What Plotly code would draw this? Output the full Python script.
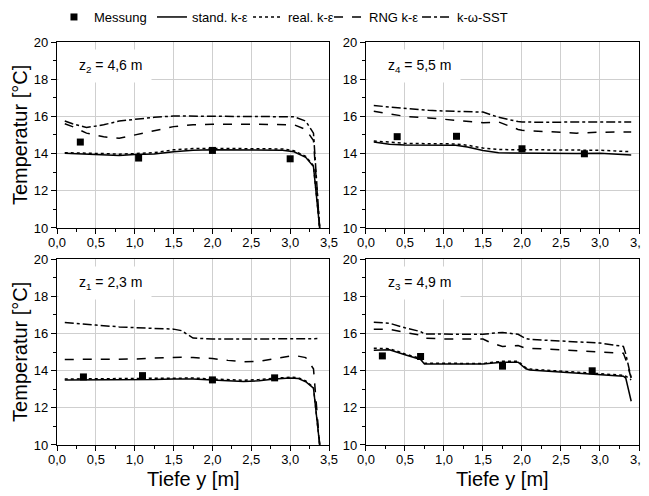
import plotly.graph_objects as go

# ---------------- data ----------------
# Top-left panel: z2 = 4,6 m
tl_x = [0.1, 0.2, 0.38, 0.6, 0.8, 1.0, 1.25, 1.5, 1.75, 2.0, 2.5, 2.9, 3.05, 3.2, 3.3, 3.38]
tl_std = [14.02, 14.0, 13.98, 13.95, 13.9, 13.95, 13.98, 14.1, 14.18, 14.2, 14.2, 14.18, 14.1, 13.8, 13.3, 10.0]
tl_real = [14.05, 14.03, 14.02, 14.0, 13.97, 14.0, 14.05, 14.2, 14.27, 14.28, 14.28, 14.25, 14.15, 13.85, 13.35, 10.0]
tl_rng = [15.6, 15.45, 15.1, 14.9, 14.82, 15.0, 15.25, 15.45, 15.55, 15.58, 15.58, 15.58, 15.55, 15.3, 14.7, 10.0]
tl_sst = [15.75, 15.6, 15.4, 15.55, 15.75, 15.85, 15.95, 16.02, 16.02, 16.0, 16.0, 16.0, 15.98, 15.75, 15.1, 10.0]
tl_mess_x = [0.3, 1.05, 2.0, 3.0]
tl_mess_y = [14.62, 13.76, 14.17, 13.72]

# Top-right panel: z4 = 5,5 m
tr_x = [0.1, 0.3, 0.5, 0.8, 1.0, 1.15, 1.3, 1.5, 1.7, 1.85, 1.95, 2.0, 2.3, 2.7, 3.0, 3.4]
tr_std = [14.62, 14.5, 14.46, 14.46, 14.46, 14.45, 14.35, 14.17, 14.04, 14.03, 14.03, 14.03, 14.02, 14.0, 14.02, 13.93]
tr_real = [14.68, 14.6, 14.55, 14.53, 14.53, 14.52, 14.45, 14.3, 14.22, 14.2, 14.2, 14.2, 14.2, 14.18, 14.18, 14.1]
tr_rng = [16.28, 16.15, 16.0, 15.92, 15.85, 15.8, 15.75, 15.66, 15.7, 15.45, 15.3, 15.25, 15.18, 15.1, 15.15, 15.16]
tr_sst = [16.58, 16.5, 16.44, 16.33, 16.29, 16.26, 16.25, 16.23, 15.95, 15.8, 15.72, 15.7, 15.68, 15.7, 15.7, 15.7]
tr_mess_x = [0.4, 1.16, 2.0, 2.8]
tr_mess_y = [14.91, 14.93, 14.26, 13.99]

# Bottom-left panel: z1 = 2,3 m
bl_x = [0.1, 0.3, 0.5, 0.8, 1.0, 1.25, 1.5, 1.6, 1.75, 2.0, 2.2, 2.4, 2.6, 2.8, 3.0, 3.1, 3.2, 3.3, 3.38]
bl_std = [13.5, 13.5, 13.5, 13.48, 13.5, 13.52, 13.55, 13.55, 13.55, 13.5, 13.45, 13.42, 13.45, 13.55, 13.6, 13.58, 13.4, 13.06, 10.0]
bl_real = [13.55, 13.56, 13.56, 13.55, 13.56, 13.58, 13.6, 13.6, 13.6, 13.55, 13.5, 13.48, 13.52, 13.6, 13.65, 13.62, 13.45, 13.1, 10.0]
bl_rng = [14.6, 14.6, 14.6, 14.6, 14.62, 14.68, 14.72, 14.72, 14.7, 14.65, 14.55, 14.48, 14.5, 14.62, 14.78, 14.78, 14.7, 14.1, 10.0]
bl_sst_x = [0.1, 0.3, 0.5, 0.8, 1.0, 1.25, 1.5, 1.6, 1.75, 2.0, 2.5, 3.0, 3.35]
bl_sst = [16.59, 16.5, 16.45, 16.35, 16.3, 16.27, 16.23, 16.15, 15.75, 15.7, 15.7, 15.72, 15.72]
bl_mess_x = [0.34, 1.1, 2.0, 2.8]
bl_mess_y = [13.66, 13.73, 13.5, 13.61]

# Bottom-right panel: z3 = 4,9 m
br_x = [0.1, 0.3, 0.5, 0.7, 0.75, 1.0, 1.5, 1.6, 1.75, 1.95, 2.05, 2.1, 2.5, 3.0, 3.3, 3.33, 3.4]
br_std = [15.1, 15.12, 14.85, 14.6, 14.36, 14.35, 14.35, 14.4, 14.45, 14.45, 14.1, 14.03, 13.93, 13.8, 13.7, 13.6, 12.35]
br_real = [15.2, 15.18, 14.9, 14.65, 14.4, 14.38, 14.38, 14.43, 14.5, 14.5, 14.15, 14.08, 13.98, 13.85, 13.75, 13.7, 13.5]
br_rng = [16.22, 16.22, 16.05, 15.9, 15.75, 15.7, 15.7, 15.5, 15.3, 15.35, 15.2, 15.2, 15.12, 15.0, 14.93, 14.6, 13.6]
br_sst = [16.6, 16.55, 16.3, 16.1, 15.97, 15.95, 15.95, 16.0, 16.05, 15.95, 15.72, 15.68, 15.6, 15.48, 15.3, 14.9, 13.6]
br_mess_x = [0.21, 0.7, 1.75, 2.9]
br_mess_y = [14.79, 14.76, 14.24, 13.99]

series_names = ["Messung", "stand. k-ε", "real. k-ε", "RNG k-ε", "k-ω-SST"]
panel_labels = ["z<sub>2</sub> = 4,6 m", "z<sub>4</sub> = 5,5 m", "z<sub>1</sub> = 2,3 m", "z<sub>3</sub> = 4,9 m"]
x_ticks = [0.0, 0.5, 1.0, 1.5, 2.0, 2.5, 3.0, 3.5]
y_ticks = [10, 12, 14, 16, 18, 20]
x_title = "Tiefe y [m]"
y_title = "Temperatur [°C]"

# ---------------- figure ----------------
FONT = "Arial, Liberation Sans, sans-serif"
fig = go.Figure()

panels = [
    dict(xa="x", ya="y", mx=tl_mess_x, my=tl_mess_y,
         lines=[(tl_x, tl_std), (tl_x, tl_real), (tl_x, tl_rng), (tl_x, tl_sst)]),
    dict(xa="x2", ya="y2", mx=tr_mess_x, my=tr_mess_y,
         lines=[(tr_x, tr_std), (tr_x, tr_real), (tr_x, tr_rng), (tr_x, tr_sst)]),
    dict(xa="x3", ya="y3", mx=bl_mess_x, my=bl_mess_y,
         lines=[(bl_x, bl_std), (bl_x, bl_real), (bl_x, bl_rng), (bl_sst_x, bl_sst)]),
    dict(xa="x4", ya="y4", mx=br_mess_x, my=br_mess_y,
         lines=[(br_x, br_std), (br_x, br_real), (br_x, br_rng), (br_x, br_sst)]),
]
dashes = ["solid", "dot", "dash", "dashdot"]
legend_ids = ["legend", "legend2", "legend3", "legend4", "legend5"]

for i, p in enumerate(panels):
    for j, (lx, ly) in enumerate(p["lines"]):
        fig.add_trace(go.Scatter(
            x=lx, y=ly, mode="lines", xaxis=p["xa"], yaxis=p["ya"],
            name=series_names[j + 1], showlegend=(i == 0), legend=legend_ids[j + 1],
            line=dict(color="black", width=1.5, dash=dashes[j])))
    fig.add_trace(go.Scatter(
        x=p["mx"], y=p["my"], mode="markers", xaxis=p["xa"], yaxis=p["ya"],
        name=series_names[0], showlegend=(i == 0), legend=legend_ids[0],
        marker=dict(symbol="square", size=7, color="black")))

col_dom = [[0.0, 0.4674], [0.5309, 1.0]]
row_dom = [[0.5385, 1.0], [0.0, 0.4615]]
axis_common = dict(
    showline=True, mirror=True, linecolor="black", linewidth=1.3,
    ticks="outside", ticklen=5, tickwidth=1, tickcolor="black",
    showgrid=True, gridcolor="#cfcfcf", gridwidth=1, zeroline=False,
    automargin=False,
    tickfont=dict(family=FONT, size=13, color="black"),
)
layout_axes = {}
for k in range(4):
    r, c = divmod(k, 2)
    xs = "xaxis" if k == 0 else f"xaxis{k+1}"
    ys = "yaxis" if k == 0 else f"yaxis{k+1}"
    yref = "y" if k == 0 else f"y{k+1}"
    xref = "x" if k == 0 else f"x{k+1}"
    xa = dict(axis_common, domain=col_dom[c], anchor=yref, range=[0, 3.5],
              tickvals=x_ticks, tickformat=".1f", ticklabelstandoff=-3,
              minor=dict(tickvals=[0.25, 0.75, 1.25, 1.75, 2.25, 2.75, 3.25],
                         ticks="outside", ticklen=3, tickcolor="black", showgrid=False))
    ya = dict(axis_common, domain=row_dom[r], anchor=xref, range=[10, 20],
              tickvals=y_ticks,
              minor=dict(tickvals=[11, 13, 15, 17, 19],
                         ticks="outside", ticklen=3, tickcolor="black", showgrid=False))
    layout_axes[xs] = xa
    layout_axes[ys] = ya

fig.update_layout(**layout_axes)

# axis titles
for xc in [0.2337, 0.7655]:
    fig.add_annotation(xref="paper", yref="paper", x=xc, y=-0.085,
                       xanchor="center", yanchor="middle", showarrow=False,
                       text=x_title, font=dict(family=FONT, size=20, color="black"))
for yc in [0.769, 0.231]:
    fig.add_annotation(xref="paper", yref="paper", x=-0.0636, y=yc,
                       xanchor="center", yanchor="middle", showarrow=False, textangle=-90,
                       text=y_title, font=dict(family=FONT, size=20, color="black"))

# label boxes (white box hides gridlines behind the label)
for k in range(4):
    xref = "x" if k == 0 else f"x{k+1}"
    yref = "y" if k == 0 else f"y{k+1}"
    fig.add_annotation(xref=f"{xref} domain", yref=f"{yref} domain",
                       x=0.0, y=0.871, xanchor="left", yanchor="middle",
                       text="&nbsp;", showarrow=False,
                       width=92, height=32, borderpad=0, bgcolor="white",
                       xshift=1, font=dict(size=10))
    fig.add_annotation(xref=f"{xref} domain", yref=f"{yref} domain",
                       x=0.0735, y=0.871, xanchor="left", yanchor="middle",
                       text=panel_labels[k], showarrow=False,
                       font=dict(family=FONT, size=14, color="black"))

# legend entries placed individually along the top
legend_x = [-0.0052, 0.1632, 0.3282, 0.4674, 0.6186]
legend_layout = {}
for lid, lx in zip(legend_ids, legend_x):
    legend_layout[lid] = dict(orientation="h", x=lx, y=1.062, xanchor="left", yanchor="middle",
                              itemwidth=30, font=dict(family=FONT, size=13, color="black"),
                              bgcolor="rgba(0,0,0,0)")

# page body adds an 8px offset, so the figure is 641x488 to fill the 649x496 window
fig.update_layout(
    width=641, height=488,
    margin=dict(l=49, r=10, t=34, b=51, autoexpand=False),
    paper_bgcolor="white", plot_bgcolor="white",
    separators=",.",
    font=dict(family=FONT, size=13, color="black"),
    showlegend=True,
    **legend_layout,
)

fig.write_html("out.html")
